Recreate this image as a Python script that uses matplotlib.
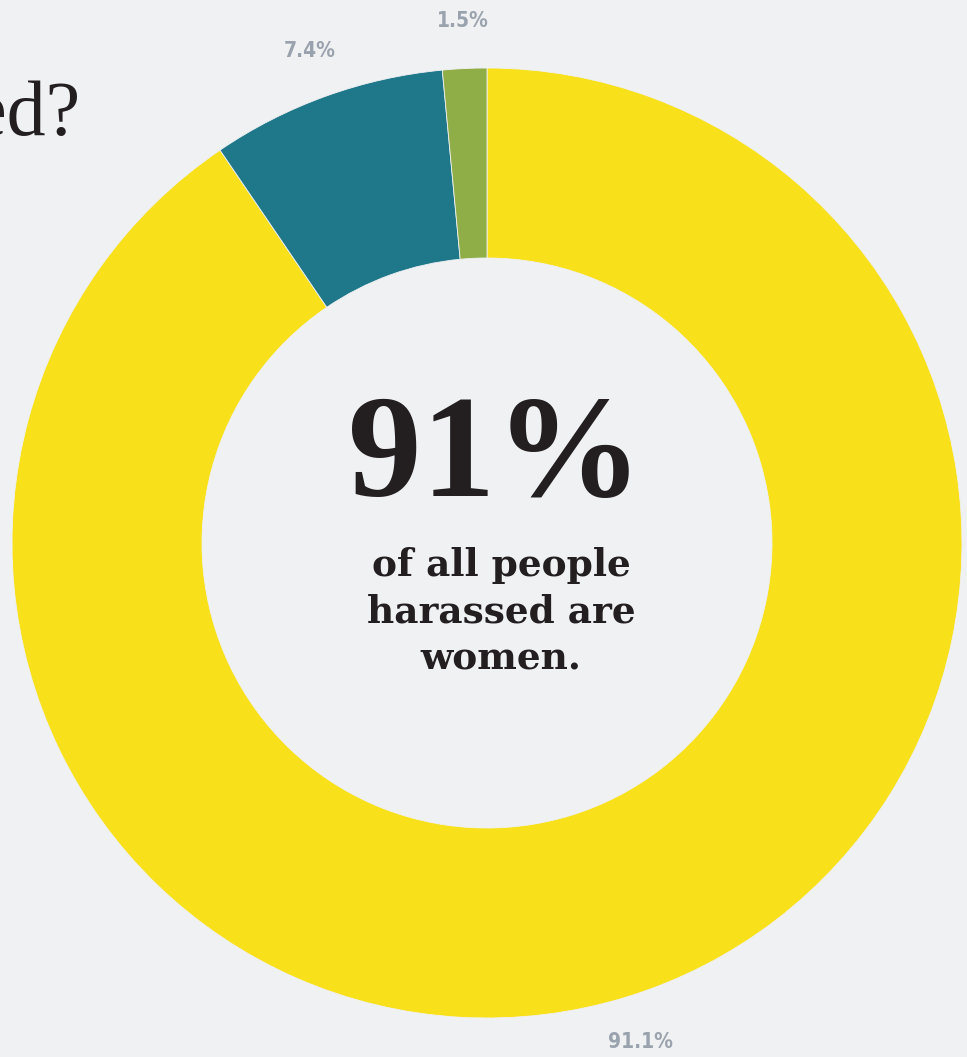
import matplotlib.pyplot as plt

# data (wedge sizes read from the drawn arcs, labels as printed)
groups = ['Women', 'Men', 'Other']
shares = [90.5, 8.0, 1.5]
share_labels = ['91.1%', '7.4%', '1.5%']
colors = ['#f8e01a', '#1f788a', '#8fae48']

bg = '#f0f1f3'
W, H = 967, 1057

fig = plt.figure(figsize=(W / 100, H / 100), dpi=100, facecolor=bg)
ax = fig.add_axes([0, 0, 1, 1])
ax.set_facecolor(bg)

wedges, texts = ax.pie(shares, labels=share_labels, colors=colors,
                       startangle=90, counterclock=False,
                       center=(487, H - 543), radius=475,
                       labeldistance=1.1,
                       wedgeprops=dict(width=190, edgecolor=bg, linewidth=0.6),
                       textprops=dict(color='#9aa3ad', fontsize=15, fontweight='bold',
                                      fontstretch='condensed',
                                      family=['DejaVu Sans']))
for t in texts:
    t.set_ha('center')
    t.set_va('center')

ax.set_xlim(0, W)
ax.set_ylim(0, H)
ax.set_aspect('equal')
ax.axis('off')

# centre text
ax.text(495, H - 461, '91%', ha='center', va='center', fontsize=106, fontweight='bold',
        family=['Liberation Serif'], color='#231f20')
ax.text(501, H - 612, 'of all people\nharassed are\nwomen.', ha='center', va='center',
        fontsize=27, fontweight='bold', linespacing=1.33,
        family=['DejaVu Serif'], color='#231f20')

# title, mostly off the left edge (as in the reference)
ax.text(80, H - 135, 'Who is harassed?', ha='right', va='baseline', fontsize=56,
        family=['Liberation Serif'], color='#231f20')

fig.savefig('out.png', dpi=100, facecolor=bg)
